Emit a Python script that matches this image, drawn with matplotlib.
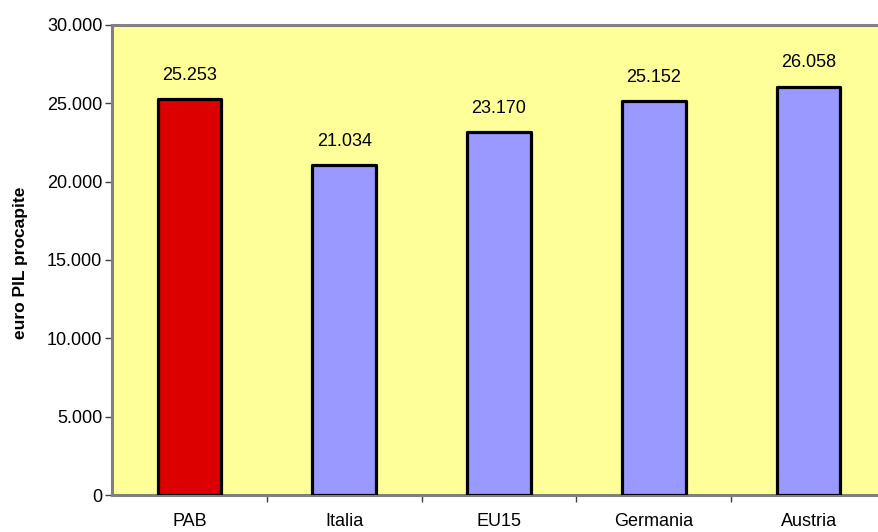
import numpy as np
import matplotlib.pyplot as plt
from matplotlib.ticker import FuncFormatter, FixedLocator

plt.rcParams['font.family'] = ['Liberation Sans', 'DejaVu Sans']

categories = ["PAB", "Italia", "EU15", "Germania", "Austria"]
values = [25253, 21034, 23170, 25152, 26058]
bar_colors = ["#DD0000", "#9999FF", "#9999FF", "#9999FF", "#9999FF"]

W, H = 879, 532
fig = plt.figure(figsize=(W / 100, H / 100), dpi=100)
left, right, top, bottom = 112, 886, 25, 495
ax = fig.add_axes([left / W, (H - bottom) / H, (right - left) / W, (bottom - top) / H])
ax.set_facecolor("#FFFF99")

x = np.arange(len(categories))
bars = ax.bar(x, values, width=0.41, color=bar_colors, edgecolor="black",
              linewidth=2.3, joinstyle="round", zorder=3)

for xi, v in zip(x, values):
    ax.annotate(f"{v:,}".replace(",", "."), (xi, v), xytext=(0, 11),
                textcoords="offset points", ha="center", va="bottom", fontsize=13)

ax.set_xlim(-0.5, len(categories) - 0.5)
ax.set_ylim(0, 30000)
ax.set_yticks(np.arange(0, 30001, 5000))
ax.yaxis.set_major_formatter(FuncFormatter(lambda v, p: f"{int(v):,}".replace(",", ".")))
ax.tick_params(axis="y", labelsize=13, length=5, width=1, color="#404040", pad=2)

ax.xaxis.set_major_locator(FixedLocator(x + 0.5))
ax.xaxis.set_minor_locator(FixedLocator(x))
ax.set_xticklabels([""] * len(x))
ax.set_xticklabels(categories, minor=True)
ax.tick_params(axis="x", which="major", length=5, width=1, color="#404040")
ax.tick_params(axis="x", which="minor", length=0, labelsize=13, pad=13)

for s in ["left", "top", "bottom", "right"]:
    ax.spines[s].set_color("#808080")
    ax.spines[s].set_linewidth(2.2)

fig.text(21 / W, 1 - 263 / H, "euro PIL procapite", rotation=90, ha="center",
         va="center", fontsize=12.5, fontweight="bold")

fig.savefig("out.png", dpi=100)
